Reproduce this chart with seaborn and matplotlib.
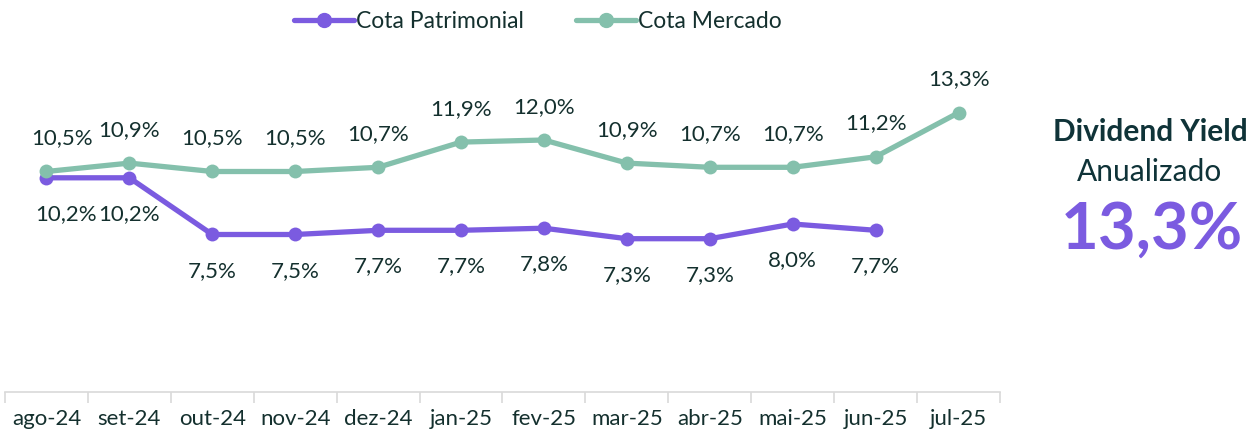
import numpy as np
import pandas as pd
import matplotlib
matplotlib.use("Agg")
import matplotlib.pyplot as plt
import seaborn as sns
from matplotlib.lines import Line2D

meses = ["ago-24", "set-24", "out-24", "nov-24", "dez-24", "jan-25",
         "fev-25", "mar-25", "abr-25", "mai-25", "jun-25", "jul-25"]
cota_patrimonial = [10.2, 10.2, 7.5, 7.5, 7.7, 7.7, 7.8, 7.3, 7.3, 8.0, 7.7, np.nan]
cota_mercado = [10.5, 10.9, 10.5, 10.5, 10.7, 11.9, 12.0, 10.9, 10.7, 10.7, 11.2, 13.3]
series_names = ["Cota Patrimonial", "Cota Mercado"]
dy_value = "13,3%"

PURPLE = "#7B5BE0"
GREEN = "#84C0AC"
TXT = "#14302E"

sns.set_theme(style="white")
plt.rcParams["font.family"] = ["Lato", "DejaVu Sans"]

df = pd.DataFrame({
    "x": list(range(len(meses))) * 2,
    "v": cota_patrimonial + cota_mercado,
    "serie": [series_names[0]] * len(meses) + [series_names[1]] * len(meses),
})

fig = plt.figure(figsize=(12.55, 4.36), dpi=100)
ax = fig.add_axes([5 / 1255, 44 / 436, 995 / 1255, 336 / 436])

sns.lineplot(data=df.dropna(), x="x", y="v", hue="serie",
             palette={series_names[0]: PURPLE, series_names[1]: GREEN},
             marker="o", markersize=10, markeredgewidth=0, linewidth=3.8,
             ax=ax, legend=False, zorder=3)

ax.set_xlim(-0.5, len(meses) - 0.5)
ax.set_ylim(0, 16)
ax.set_xlabel("")
ax.set_ylabel("")
ax.set_yticks([])
ax.set_xticks(range(len(meses)))
ax.set_xticklabels(meses, fontsize=16, color=TXT)
ax.set_xticks(np.arange(-0.5, len(meses), 1), minor=True)
ax.tick_params(axis="x", which="major", length=0, pad=12)
ax.tick_params(axis="x", which="minor", length=8, color="#D9D9D9", width=1.2,
               direction="out", bottom=True)
for s in ["top", "right", "left"]:
    ax.spines[s].set_visible(False)
ax.spines["bottom"].set_color("#D9D9D9")
ax.spines["bottom"].set_linewidth(1.2)


def fmt(v):
    return f"{v:.1f}".replace(".", ",") + "%"


for i, v in enumerate(cota_mercado):
    dx = 11 if i == 0 else 0
    ax.annotate(fmt(v), (i, v), xytext=(dx, 24), textcoords="offset points",
                ha="center", va="center", fontsize=16, color=TXT)
for i, v in enumerate(cota_patrimonial):
    if np.isnan(v):
        continue
    dx = 14 if i == 0 else 0
    ax.annotate(fmt(v), (i, v), xytext=(dx, -26), textcoords="offset points",
                ha="center", va="center", fontsize=16, color=TXT)

handles = [Line2D([], [], color=PURPLE, lw=3.8, marker="o", markersize=10),
           Line2D([], [], color=GREEN, lw=3.8, marker="o", markersize=10)]
fig.legend(handles, series_names, loc="center", bbox_to_anchor=(538 / 1255, 1 - 22 / 436),
           ncol=2, frameon=False, fontsize=16.5, handlelength=2.6, handletextpad=0.1,
           columnspacing=2.3, labelcolor=TXT)

fig.text(1150 / 1255, 1 - 132 / 436, "Dividend Yield", ha="center", va="center",
         fontsize=21.5, fontweight="bold", color="#0F3338")
fig.text(1150 / 1255, 1 - 172 / 436, "Anualizado", ha="center", va="center",
         fontsize=21.5, color="#0F3338")
fig.text(1152 / 1255, 1 - 230 / 436, dy_value, ha="center", va="center",
         fontsize=47, fontweight="bold", color=PURPLE)

fig.savefig("out.png", dpi=100)
